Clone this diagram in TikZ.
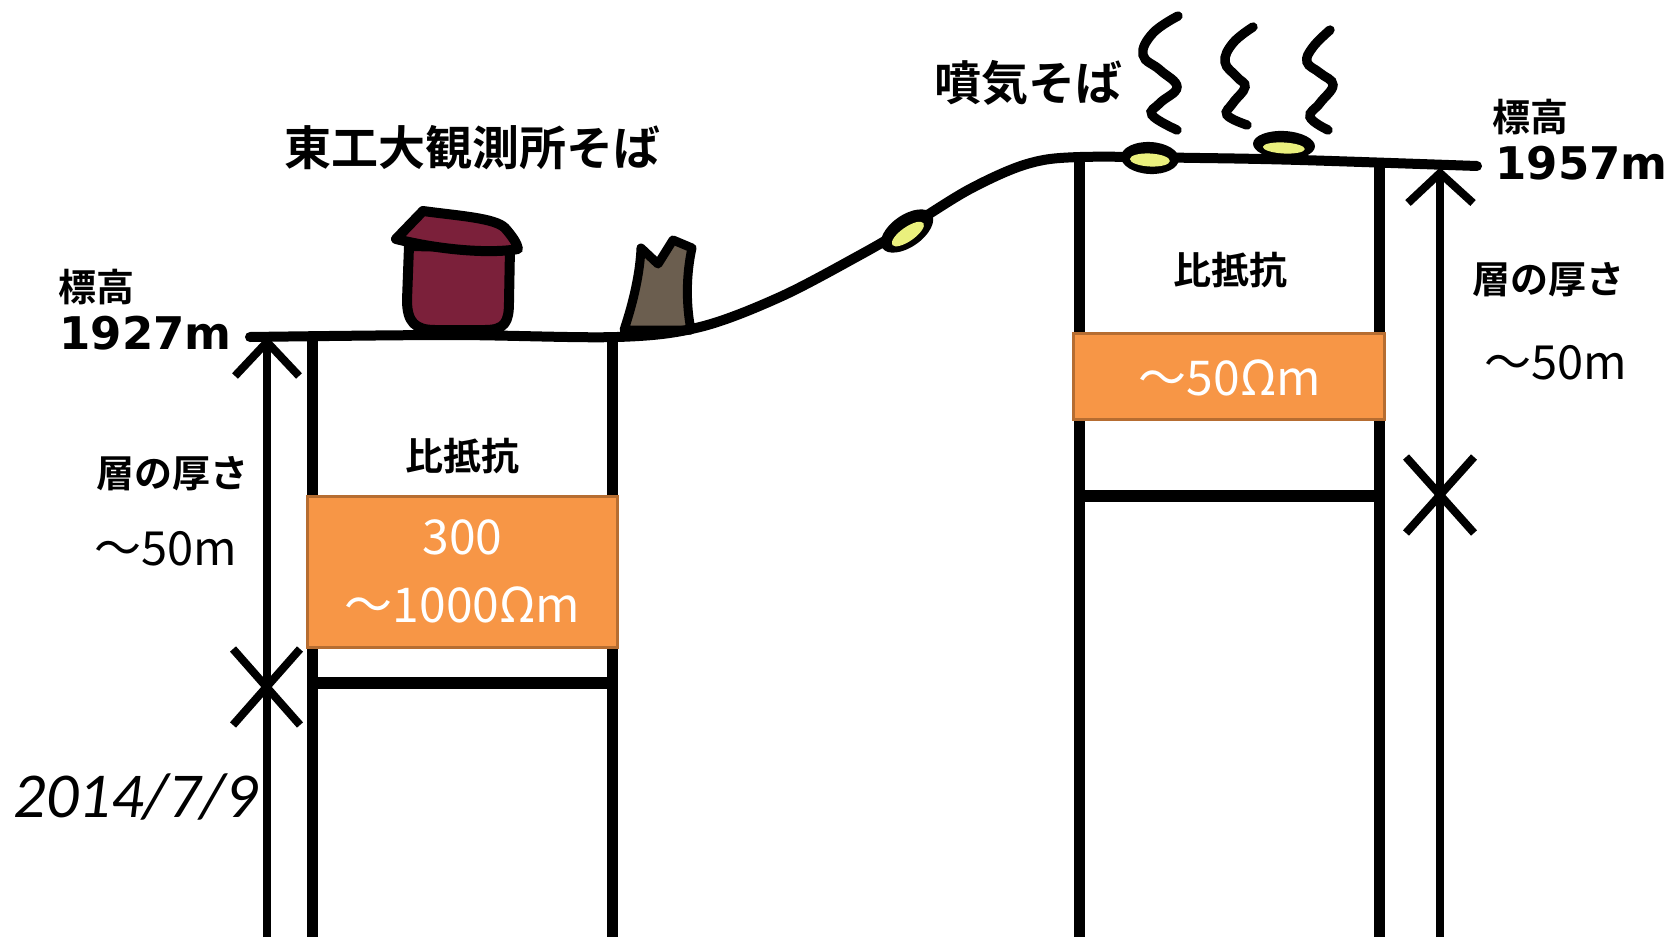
\documentclass[tikz,border=0pt]{standalone}
\usepackage{fontspec}
\setmainfont{Noto Sans CJK JP}
\newfontfamily\jpbold{Noto Sans CJK JP Bold}
\newfontfamily\latinbold{DejaVu Sans Bold}
\newfontfamily\dateface{Carlito}

\definecolor{boxfill}{RGB}{247,150,70}
\definecolor{boxedge}{RGB}{182,109,49}
\definecolor{hutred}{RGB}{123,32,58}
\definecolor{stumpc}{RGB}{107,94,79}
\definecolor{ventc}{RGB}{234,240,125}

\tikzset{
  ground/.style={line width=5pt, line cap=round, line join=round},
  pillar/.style={line width=5.5pt},
  gauge/.style={line width=4pt},
  outline/.style={line width=5pt, line join=round},
  steam/.style={line width=4.7pt, line cap=round},
  layerbox/.style={draw=boxedge, fill=boxfill, line width=1.5pt},
  jplbl/.style={inner sep=0pt, font=\jpbold\fontsize{19}{22}\selectfont},
  title/.style={inner sep=0pt, font=\jpbold\fontsize{23.5}{26}\selectfont},
  elev/.style={inner sep=0pt, font=\latinbold\fontsize{22.5}{26}\selectfont},
  thick/.style={inner sep=0pt, font=\fontsize{23.5}{26}\selectfont},
  boxtext/.style={inner sep=0pt, text=white, align=center, font=\fontsize{24}{34}\selectfont},
}

\begin{document}
\begin{tikzpicture}[x=0.5pt, y=-0.5pt]
\useasboundingbox (0,0) rectangle (1675,937);

% --- left borehole: columns and layer boundary
\draw[pillar] (312,336) -- (312,937);
\draw[pillar] (612,336) -- (612,937);
\draw[line width=6pt] (312,683) -- (612,683);
\node[layerbox, minimum width=155pt, minimum height=75.5pt, inner sep=0pt] (lbox) at (462.5,571.5) {};
\node[boxtext] (lres) at (lbox.center) {300\\〜1000Ωm};
\node[jplbl] (lhead) at (462,456) {比抵抗};

% --- right borehole
\draw[pillar] (1079,160) -- (1079,937);
\draw[pillar] (1379,163) -- (1379,937);
\draw[line width=6pt] (1079,496) -- (1379,496);
\node[layerbox, minimum width=155.5pt, minimum height=43pt, inner sep=0pt] (rbox) at (1228.5,376) {};
\node[boxtext] (rres) at (1230,378) {〜50Ωm};
\node[jplbl] (rhead) at (1230,270) {比抵抗};

% --- hut
\draw[outline, fill=hutred] (409,246) -- (407,300) .. controls (407,322) and (415,330) .. (435,330)
  -- (485,330) .. controls (505,330) and (509,322) .. (509,302) -- (510,248) -- cycle;
\draw[outline, fill=hutred] (396,239) -- (423,211) .. controls (460,216) and (495,218) .. (505,228)
  .. controls (512,236) and (517,243) .. (518,249) .. controls (490,254) and (440,250) .. (396,239) -- cycle;

% --- tree stump
\draw[line width=4.5pt, line join=round, fill=stumpc] (624,330) .. controls (634,300) and (640,272) .. (641,248)
  -- (658,264) -- (673,240) -- (692,248) .. controls (686,275) and (686,305) .. (691,330) -- cycle;

% --- ground surface
\draw[ground] plot[smooth, tension=0.55] coordinates {
  (250,337) (450,335) (617,337) (700,327) (780,297) (860,255) (910,226) (970,189)
  (1027,164) (1080,157) (1200,158) (1300,160) (1477,166)};

% --- fumaroles
\begin{scope}[shift={(907,231)}, rotate=35]
  \fill (0,0) ellipse [x radius=30, y radius=16];
  \fill[ventc] (-1,3) ellipse [x radius=19, y radius=7];
\end{scope}
\begin{scope}[shift={(1150,158)}, rotate=-3]
  \fill (0,0) ellipse [x radius=29, y radius=16];
  \fill[ventc] (0,2) ellipse [x radius=20, y radius=6.5];
\end{scope}
\begin{scope}[shift={(1284,145)}, rotate=-3]
  \fill (0,0) ellipse [x radius=31, y radius=14];
  \fill[ventc] (0,3) ellipse [x radius=21, y radius=5.5];
\end{scope}

% --- steam
\draw[steam] plot[smooth, tension=0.7] coordinates {(1178,16) (1153,33) (1143,55) (1160,70) (1177,87) (1160,103) (1152,115) (1177,130)};
\draw[steam] plot[smooth, tension=0.7] coordinates {(1253,27) (1233,43) (1225,62) (1237,77) (1245,87) (1233,103) (1227,115) (1247,125)};
\draw[steam] plot[smooth, tension=0.7] coordinates {(1330,30) (1313,47) (1307,62) (1320,73) (1333,85) (1320,103) (1310,117) (1328,130)};

% --- thickness gauges
\coordinate (lgTop) at (267,342);
\coordinate (lgBot) at (267,937);
\draw[gauge] (lgBot) -- (lgTop);
\draw[gauge] (235,376) -- (lgTop) -- (299,376);
\draw[gauge] (233,649) -- (300,725);
\draw[gauge] (233,725) -- (300,649);

\coordinate (rgTop) at (1440,173);
\coordinate (rgBot) at (1440,937);
\draw[gauge] (rgBot) -- (rgTop);
\draw[gauge] (1408,203) -- (rgTop) -- (1473,203);
\draw[gauge] (1406,457) -- (1474,533);
\draw[gauge] (1406,533) -- (1474,457);

% --- labels
\node[title] (site) at (472,148) {東工大観測所そば};
\node[title] (fum) at (1028,83) {噴気そば};

\node[jplbl] (lalt) at (96,287) {標高};
\node[elev, anchor=west] (lalt2) at (59,333) {1927m};
\node[jplbl] (rth) at (1530,117) {標高};
\node[elev, anchor=west] (ralt2) at (1495,163) {1957m};

\node[jplbl] (lth) at (172,474) {層の厚さ};
\node[thick] (lthv) at (166,549) {〜50m};
\node[jplbl] (rthk) at (1548,280) {層の厚さ};
\node[thick] (rthv) at (1556,363) {〜50m};

\node[inner sep=0pt, font=\dateface\itshape\fontsize{32}{36}\selectfont] (date) at (136,797) {2014/7/9};
\end{tikzpicture}
\end{document}
